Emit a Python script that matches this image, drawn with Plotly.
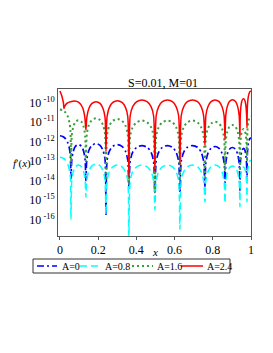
import plotly.graph_objects as go

# x positions (shared by A=0, A=0.8, A=1.6)
x_shared = [0, 0.015, 0.030, 0.042, 0.050, 0.055,
            0.058, 0.062, 0.070, 0.081, 0.097, 0.113, 0.124, 0.132,
            0.136, 0.141, 0.152, 0.168, 0.189, 0.210, 0.225, 0.236,
            0.241, 0.247, 0.259, 0.277, 0.301, 0.325, 0.343, 0.355,
            0.361, 0.368, 0.381, 0.402, 0.429, 0.456, 0.477, 0.490,
            0.497, 0.504, 0.517, 0.536, 0.563, 0.589, 0.608, 0.621,
            0.628, 0.635, 0.648, 0.667, 0.694, 0.720, 0.739, 0.752,
            0.759, 0.764, 0.775, 0.791, 0.812, 0.833, 0.848, 0.859,
            0.864, 0.868, 0.876, 0.887, 0.903, 0.919, 0.930, 0.938,
            0.942, 0.944, 0.948, 0.953, 0.961, 0.968, 0.973, 0.977,
            0.979, 0.981, 0.985, 0.990, 0.995, 1.000]

# x positions for A=2.4
x_red = [0, 0.008, 0.015, 0.019,
         0.021, 0.027, 0.038, 0.056, 0.079, 0.102, 0.119, 0.130,
         0.136, 0.141, 0.152, 0.168, 0.189, 0.210, 0.225, 0.236,
         0.241, 0.247, 0.259, 0.277, 0.301, 0.325, 0.343, 0.355,
         0.361, 0.368, 0.381, 0.402, 0.429, 0.456, 0.477, 0.490,
         0.497, 0.504, 0.517, 0.536, 0.563, 0.589, 0.608, 0.621,
         0.628, 0.635, 0.648, 0.667, 0.694, 0.720, 0.739, 0.752,
         0.759, 0.764, 0.775, 0.791, 0.812, 0.833, 0.848, 0.859,
         0.864, 0.868, 0.876, 0.887, 0.903, 0.919, 0.930, 0.938,
         0.942, 0.944, 0.948, 0.953, 0.961, 0.968, 0.973, 0.977,
         0.979, 0.981, 0.985, 0.990, 0.995, 1.000]

# log10 of f'(x)
log_A0 = [-11.7, -11.74, -11.86, -12.08, -12.37, -12.79,
          -13.9, -12.95, -12.49, -12.24, -12.15, -12.24, -12.49, -12.95,
          -14.0, -12.9, -12.44, -12.19, -12.1, -12.19, -12.44, -12.9,
          -15.8, -12.95, -12.49, -12.24, -12.15, -12.24, -12.49, -12.95,
          -14.3, -13.0, -12.54, -12.29, -12.2, -12.29, -12.54, -13.0,
          -14.6, -13.0, -12.54, -12.29, -12.2, -12.29, -12.54, -13.0,
          -14.6, -13.0, -12.54, -12.29, -12.2, -12.29, -12.54, -13.0,
          -14.3, -13.05, -12.59, -12.34, -12.25, -12.34, -12.59, -13.05,
          -14.1, -13.1, -12.64, -12.39, -12.3, -12.39, -12.64, -13.1,
          -14.5, -13.15, -12.69, -12.44, -12.35, -12.44, -12.69, -13.15,
          -14.0, -12.62, -12.16, -11.93, -11.83, -11.8]

log_A08 = [-12.8, -12.84, -12.96, -13.18, -13.47, -13.89,
           -16.0, -14.0, -13.54, -13.29, -13.2, -13.29, -13.54, -14.0,
           -14.85, -13.95, -13.49, -13.24, -13.15, -13.24, -13.49, -13.95,
           -15.75, -14.0, -13.54, -13.29, -13.2, -13.29, -13.54, -14.0,
           -16.9, -14.0, -13.54, -13.29, -13.2, -13.29, -13.54, -14.0,
           -15.5, -14.0, -13.54, -13.29, -13.2, -13.29, -13.54, -14.0,
           -16.5, -14.0, -13.54, -13.29, -13.2, -13.29, -13.54, -14.0,
           -15.1, -14.0, -13.54, -13.29, -13.2, -13.29, -13.54, -14.0,
           -15.15, -14.05, -13.59, -13.34, -13.25, -13.34, -13.59, -14.05,
           -15.35, -14.1, -13.64, -13.39, -13.3, -13.39, -13.64, -14.1,
           -15.1, -13.77, -13.31, -13.08, -12.98, -12.95]

log_A16 = [-10.35, -10.39, -10.51, -10.73, -11.02, -11.44,
           -13.2, -11.7, -11.24, -10.99, -10.9, -10.99, -11.24, -11.7,
           -13.0, -11.6, -11.14, -10.89, -10.8, -10.89, -11.14, -11.6,
           -14.0, -11.64, -11.18, -10.93, -10.84, -10.93, -11.18, -11.64,
           -14.2, -11.72, -11.26, -11.01, -10.92, -11.01, -11.26, -11.72,
           -14.6, -11.72, -11.26, -11.01, -10.92, -11.01, -11.26, -11.72,
           -14.0, -11.72, -11.26, -11.01, -10.92, -11.01, -11.26, -11.72,
           -13.8, -11.78, -11.32, -11.07, -10.98, -11.07, -11.32, -11.78,
           -13.5, -11.95, -11.49, -11.24, -11.15, -11.24, -11.49, -11.95,
           -13.5, -12.15, -11.69, -11.44, -11.35, -11.44, -11.69, -12.15,
           -13.0, -11.52, -11.06, -10.83, -10.73, -10.7]

log_A24 = [-9.4, -9.6, -9.85, -10.05,
           -10.3, -10.15, -10.02, -9.95, -9.92, -10.01, -10.26, -10.72,
           -11.4, -10.75, -10.29, -10.04, -9.95, -10.04, -10.29, -10.75,
           -12.5, -10.7, -10.24, -9.99, -9.9, -9.99, -10.24, -10.7,
           -13.8, -10.66, -10.2, -9.95, -9.86, -9.95, -10.2, -10.66,
           -13.5, -10.66, -10.2, -9.95, -9.86, -9.95, -10.2, -10.66,
           -13.2, -10.66, -10.2, -9.95, -9.86, -9.95, -10.2, -10.66,
           -12.2, -10.66, -10.2, -9.95, -9.86, -9.95, -10.2, -10.66,
           -11.9, -10.65, -10.19, -9.94, -9.85, -9.94, -10.19, -10.65,
           -11.75, -10.6, -10.14, -9.89, -9.8, -9.89, -10.14, -10.6,
           -11.3, -10.22, -9.76, -9.53, -9.43, -9.4]

names = ["A=0", "A=0.8", "A=1.6", "A=2.4"]
y_ticks_exp = [-10, -11, -12, -13, -14, -15, -16]
x_ticks = [0, 0.2, 0.4, 0.6, 0.8, 1]
x_tick_labels = ["0", "0.2", "0.4", "0.6", "0.8", "1"]

colors = ["#0000ff", "#00ffff", "#3a9e3a", "#ff0000"]
dashes = ["7px,3px,2px,3px", "7px,4px", "2px,3px", "solid"]
widths = [1.7, 1.5, 2.0, 1.5]
xs_list = [x_shared, x_shared, x_shared, x_red]
logs_list = [log_A0, log_A08, log_A16, log_A24]

FONT = "Liberation Serif, Times New Roman, serif"

# page body has an 8px margin: figure is drawn from (8, 8) in the window
OFF = 8
W, H = 273 - OFF, 353 - OFF
# plot area in window pixels
L, R, T, B = 58, 251, 89, 236
def px(xp):
    return (xp - L) / (R - L)
def py(yp):
    return (B - yp) / (B - T)

fig = go.Figure()
for name, xs, le, col, dash, w in zip(names, xs_list, logs_list, colors, dashes, widths):
    fig.add_trace(go.Scatter(
        x=xs, y=[10 ** v for v in le], name=name, mode="lines", showlegend=False,
        line=dict(color=col, dash=dash, width=w, shape="spline", smoothing=0.8),
    ))

fig.update_layout(
    width=W, height=H,
    margin=dict(l=L - OFF, r=W - (R - OFF), t=T - OFF, b=H - (B - OFF), autoexpand=False),
    paper_bgcolor="white", plot_bgcolor="white",
    font=dict(family=FONT, size=12, color="black"),
    title=dict(text="S=0.01, M=01", x=px(163), xref="paper", xanchor="center",
               y=1 - (83 - OFF) / H, yanchor="middle",
               font=dict(family=FONT, size=12, color="black")),
    showlegend=False,
)
fig.update_xaxes(range=[-0.01, 1.0], tickvals=x_ticks, ticktext=x_tick_labels,
                 showgrid=False, zeroline=False, showline=True, linecolor="#555",
                 linewidth=1, mirror=True, ticks="outside", ticklen=3,
                 tickcolor="#555", tickfont=dict(size=12))
fig.update_yaxes(type="log", range=[-16.84, -9.30],
                 tickvals=[10 ** e for e in y_ticks_exp],
                 ticktext=["10<sup> %d</sup>" % e for e in y_ticks_exp],
                 showgrid=False, zeroline=False, showline=True, linecolor="#555",
                 linewidth=1, mirror=True, ticks="", tickfont=dict(size=12))
fig.add_annotation(text="<i>f</i>′(<i>x</i>)", xref="paper", yref="paper",
                   x=px(33), y=py(163), xanchor="right", yanchor="middle",
                   showarrow=False, font=dict(size=11))
fig.add_annotation(text="<i>x</i>", xref="paper", yref="paper",
                   x=px(155), y=py(252), xanchor="center", yanchor="middle",
                   showarrow=False, font=dict(size=11))

# manual legend
fig.add_shape(type="rect", xref="paper", yref="paper",
              x0=px(33), x1=px(230), y0=py(259), y1=py(273),
              line=dict(color="#333", width=1), fillcolor="white")
leg_line_x = [(37, 57), (80, 100), (132, 153), (181, 203)]
leg_text_x = [60, 103, 155, 205]
for i in range(4):
    fig.add_shape(type="line", xref="paper", yref="paper",
                  x0=px(leg_line_x[i][0]), x1=px(leg_line_x[i][1]),
                  y0=py(266), y1=py(266),
                  line=dict(color=colors[i], dash=dashes[i], width=widths[i]))
    fig.add_annotation(text=names[i], xref="paper", yref="paper",
                       x=px(leg_text_x[i]), y=py(266.5), xanchor="left",
                       yanchor="middle", showarrow=False,
                       font=dict(size=10))
fig.write_html("out.html")
